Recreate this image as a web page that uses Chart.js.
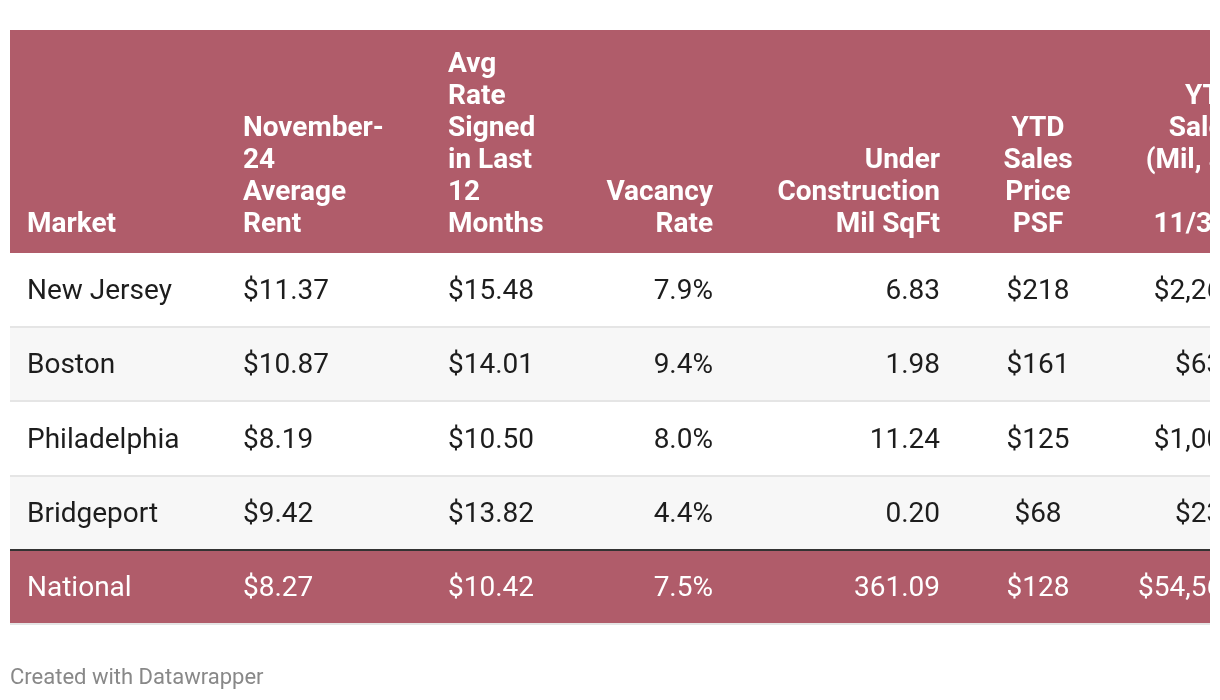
<!DOCTYPE html>
<html>
<head>
<meta charset="utf-8">
<script src="https://cdn.jsdelivr.net/npm/chart.js@4.4.1/dist/chart.umd.min.js"></script>
<style>
    body { margin: 0; background: #fff; }
    #wrap { position: relative; width: 1220px; height: 700px; }
    #footer {
        position: absolute; left: 10px; top: 664px;
        font: 22px Roboto, sans-serif; color: #888;
    }
</style>
</head>
<body>
<div id="wrap">
    <canvas id="marketTable" width="1220" height="700"></canvas>
    <div id="footer">Created with Datawrapper</div>
</div>
<script>
// table data
const markets = ["New Jersey", "Boston", "Philadelphia", "Bridgeport", "National"];
const averageRent = [11.37, 10.87, 8.19, 9.42, 8.27];
const signedRate = [15.48, 14.01, 10.50, 13.82, 10.42];
const vacancyRate = [7.9, 9.4, 8.0, 4.4, 7.5];
const underConstruction = [6.83, 1.98, 11.24, 0.20, 361.09];
const salesPricePsf = [218, 161, 125, 68, 128];
const ytdSales = [2264, 634, 1003, 232, 54561];

const headers = [
    ["Market"],
    ["November-", "24", "Average", "Rent"],
    ["Avg", "Rate", "Signed", "in Last", "12", "Months"],
    ["Vacancy", "Rate"],
    ["Under", "Construction", "Mil SqFt"],
    ["YTD", "Sales", "Price", "PSF"],
    ["YTD", "Sales", "(Mil, as", "of", "11/30)"],
];

const money = (v) => "$" + v.toLocaleString("en-US");
const columns = [
    markets,
    averageRent.map((v) => "$" + v.toFixed(2)),
    signedRate.map((v) => "$" + v.toFixed(2)),
    vacancyRate.map((v) => v.toFixed(1) + "%"),
    underConstruction.map((v) => v.toFixed(2)),
    salesPricePsf.map(money),
    ytdSales.map(money),
];

// layout
const HEADER_TOP = 30;
const HEADER_LINE = 32;
const ACCENT = "#b05c6a";
const colLayout = [
    { x: 27, align: "left" },
    { x: 243, align: "left" },
    { x: 448, align: "left" },
    { x: 713, align: "right" },
    { x: 940, align: "right" },
    { x: 1038, align: "center" },
    { x: 1238, align: "right" },
];

const tablePlugin = {
    id: "tableCells",
    beforeDraw(chart) {
        const { ctx, chartArea } = chart;
        ctx.save();
        ctx.fillStyle = ACCENT;
        ctx.fillRect(chartArea.left, HEADER_TOP, chartArea.right - chartArea.left, chartArea.top - HEADER_TOP);
        ctx.restore();
    },
    afterDraw(chart) {
        const { ctx, chartArea } = chart;
        const yScale = chart.scales.y;
        ctx.save();
        ctx.beginPath();
        ctx.rect(chartArea.left, 0, chartArea.right - chartArea.left, chart.height);
        ctx.clip();

        // header
        ctx.fillStyle = "#fff";
        ctx.font = "bold 28px Roboto";
        ctx.textBaseline = "middle";
        headers.forEach((lines, c) => {
            ctx.textAlign = colLayout[c].align;
            const lastY = chartArea.top - 28;
            lines.forEach((line, i) => {
                const y = lastY - (lines.length - 1 - i) * HEADER_LINE;
                ctx.fillText(line, colLayout[c].x, y);
            });
        });

        // body
        ctx.font = "28px Roboto";
        markets.forEach((m, r) => {
            const y = yScale.getPixelForValue(r);
            ctx.fillStyle = r === markets.length - 1 ? "#fff" : "#1d1d1d";
            columns.forEach((col, c) => {
                ctx.textAlign = colLayout[c].align;
                ctx.fillText(col[r], colLayout[c].x, y + 2);
            });
        });
        ctx.restore();
    },
};

const rowColors = markets.map((m, i) =>
    i === markets.length - 1 ? ACCENT : i % 2 ? "#f7f7f7" : "#ffffff"
);

new Chart(document.getElementById("marketTable").getContext("2d"), {
    type: "bar",
    data: {
        labels: markets,
        datasets: [
            {
                data: markets.map(() => [0, 1]),
                backgroundColor: rowColors,
                barPercentage: 1,
                categoryPercentage: 1,
                borderWidth: 0,
            },
        ],
    },
    options: {
        indexAxis: "y",
        responsive: false,
        animation: false,
        events: [],
        layout: {
            padding: { left: 10, right: 10, top: 253, bottom: 76 },
        },
        scales: {
            x: { display: false, min: 0, max: 1 },
            y: {
                display: true,
                offset: true,
                ticks: { display: false },
                border: { display: false },
                grid: {
                    offset: true,
                    z: 1,
                    drawTicks: false,
                    color: (c) => {
                        if (c.index === 0) return "rgba(0,0,0,0)";
                        if (c.index === 4) return "#333333";
                        if (c.index === 5) return "#999999";
                        return "#e5e5e5";
                    },
                    lineWidth: (c) => (c.index === 5 ? 3 : 2),
                },
            },
        },
        plugins: {
            legend: { display: false },
            tooltip: { enabled: false },
        },
    },
    plugins: [tablePlugin],
});
</script>
</body>
</html>
